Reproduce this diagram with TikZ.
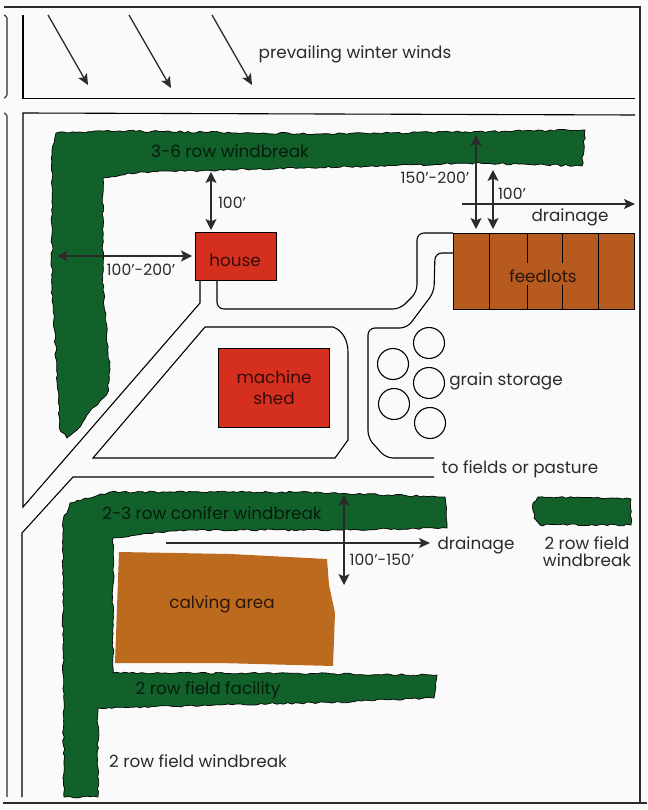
\documentclass[tikz,border=0pt]{standalone}
\usepackage{fontspec}
\setmainfont{Poppins}
\usetikzlibrary{decorations.pathmorphing,arrows.meta}
\definecolor{tree}{HTML}{12602A}
\definecolor{lot}{HTML}{B65A1F}
\definecolor{calf}{HTML}{BC6A1E}
\definecolor{bldg}{HTML}{D5301F}
\definecolor{ink}{HTML}{2B2B2B}
\tikzset{
 road/.style={draw=black,line width=1.1pt,rounded corners=7pt},
 frameline/.style={draw=ink,line width=1.4pt},
 trees/.style={fill=tree,draw=black,line width=.7pt,decorate,decoration={random steps,segment length=4pt,amplitude=1pt}},
 arr/.style={draw=ink,line width=1.3pt,-{Stealth[length=11pt,width=10pt,inset=2.5pt]}},
 darr/.style={draw=ink,line width=1.3pt,{Stealth[length=11pt,width=11pt,inset=2.5pt]}-{Stealth[length=11pt,width=11pt,inset=2.5pt]}},
 lab/.style={font=\fontsize{16.8}{17.5}\selectfont,text=ink,inner sep=0pt,align=center,yshift=-1.5pt},
 num/.style={lab,font=\fontsize{15.6}{17}\selectfont},
 ontree/.style={lab,text=black!70!tree},
 onbrown/.style={lab,text=black!75!lot},
 bin/.style={draw=black,line width=1.1pt,circle,minimum size=31pt,inner sep=0pt},
 block/.style={draw=black,line width=1pt,fill=#1}
}
\pgfmathsetseed{7}
\begin{document}
\begin{tikzpicture}[x=1pt,y=-1pt]
\useasboundingbox (0,0) rectangle (647,810);
\fill[white!98!black] (0,0) rectangle (647,810);
% frame
\draw[frameline] (4,7) -- (640,7) -- (640,803) (3,803) -- (647,803);
% left road
\draw[road,rounded corners=2pt,draw=ink] (4,15) -- (7,16) -- (7,97) -- (4,98);
\draw[road,rounded corners=2pt,draw=ink] (4,113) -- (7,114) -- (7,797);
% upper strip
\draw[road,rounded corners=0pt] (23,15) -- (23,98.5) -- (635,98.5);
\draw[road,rounded corners=0pt] (635,115) -- (23,113) -- (23,507) -- (200,303) -- (200,280);
\draw[road,rounded corners=0pt] (434,477) -- (73,477) -- (22,533) -- (22,797);
% driveways
\draw[road] (217,280) -- (217,309) -- (400,309) -- (417,292) -- (417,233) -- (453,233);
\draw[road] (453,253) -- (435,253) -- (434,292) -- (407,328) -- (368,328) -- (368,438) -- (386,458) -- (434,458);
\draw[road,rounded corners=0pt] (93,458) -- (205,327) -- (333,327) .. controls (342,330) and (348,340) .. (348,352) -- (348,440) -- (335,458) -- cycle;
% windbreaks
\path[trees] (52,150) -- (56,133) -- (120,131) -- (330,134) -- (585,130) -- (582,166)
  -- (480,163) -- (300,168) -- (140,172) -- (103,178) -- (103,290) -- (110,370) -- (108,392) -- (87,415) -- (77,430) -- (67,438) -- (60,430) -- (55,340) -- (52,290) -- cycle;
\path[trees] (63,520) -- (70,503) -- (110,492) -- (300,492) -- (445,497) -- (447,528)
  -- (340,530) -- (180,530) -- (113,538) -- (113,673) -- (250,673) -- (437,675) -- (434,698)
  -- (340,702) -- (98,708) -- (98,797) -- (64,797) -- (63,650) -- cycle;
\path[trees] (533,503) -- (538,497) -- (631,499) -- (631,525) -- (540,525) -- (534,518) -- cycle;
% areas
\fill[calf] (119,552) -- (230,554) -- (327,559) -- (329,585) -- (335,613) -- (333,666) -- (220,663) -- (115,663) -- cycle;
\draw[block=lot] (453,233) rectangle (634,309);
\draw[line width=1pt] (489,233) -- (489,309) (598,233) -- (598,309)
  (527,233) -- (527,263) (527,285) -- (527,309) (562,233) -- (562,263) (562,285) -- (562,309);
\node[block=bldg,minimum width=81pt,minimum height=48pt,inner sep=0pt] (house) at (235.5,256) {};
\node[block=bldg,minimum width=111pt,minimum height=79pt,inner sep=0pt] (shed) at (273.5,387.5) {};
% bins
\node[bin] (b1) at (429,343) {};
\node[bin] (b2) at (393,364) {};
\node[bin] (b3) at (429,383) {};
\node[bin] (b4) at (394,404) {};
\node[bin] (b5) at (430,423) {};
% coordinates of dimension arrows
\coordinate (w1a) at (48,15); \coordinate (w1b) at (88,85);
\coordinate (w2a) at (129,15); \coordinate (w2b) at (171,88);
\coordinate (w3a) at (212,15); \coordinate (w3b) at (252,85);
\draw[arr] (w1a) -- (w1b);
\draw[arr] (w2a) -- (w2b);
\draw[arr] (w3a) -- (w3b);
\coordinate (d1) at (462,204); \coordinate (d2) at (635,204);
\coordinate (d3) at (166,543); \coordinate (d4) at (430,543);
\draw[arr] (d1) -- (d2);
\draw[arr] (d3) -- (d4);
\coordinate (h1) at (211,172); \coordinate (h2) at (211,230);
\coordinate (h3) at (57,256); \coordinate (h4) at (192,256);
\coordinate (f1) at (476,135); \coordinate (f2) at (476,229);
\coordinate (f3) at (493,170); \coordinate (f4) at (493,229);
\coordinate (c1) at (344,495); \coordinate (c2) at (344,585);
\draw[darr] (h1) -- (h2);
\draw[darr] (h3) -- (h4);
\draw[darr] (f1) -- (f2);
\draw[darr] (f3) -- (f4);
\draw[darr] (c1) -- (c2);
% labels
\node[lab] (tw) at (355,53) {prevailing winter winds};
\node[ontree] (t1) at (230,150) {3-6 row windbreak};
\node[num] (t2) at (232,201) {100'};
\node[num] (t3) at (141,268) {100'-200'};
\node[lab,text=black!75!bldg] (t4) at (235,259) {house};
\node[num] (t5) at (435,176) {150'-200'};
\node[num] (t6) at (512,192) {100'};
\node[lab] (t7) at (570,216) {drainage};
\node[onbrown] (t8) at (543,275) {feedlots};
\node[lab,text=black!75!bldg,align=center] (t9) at (274,386) {machine\\[3pt]shed};
\node[lab] (t10) at (506,380) {grain storage};
\node[lab] (t11) at (520,468) {to fields or pasture};
\node[lab] (t12) at (476,544) {drainage};
\node[lab,align=center] (t13) at (587,550) {2 row field\\windbreak};
\node[ontree] (t14) at (212,512) {2-3 row conifer windbreak};
\node[num] (t15) at (382,558) {100'-150'};
\node[onbrown] (t16) at (222,603) {calving area};
\node[ontree] (t17) at (208,689) {2 row field facility};
\node[lab] (t18) at (198,760) {2 row field windbreak};
\end{tikzpicture}
\end{document}
